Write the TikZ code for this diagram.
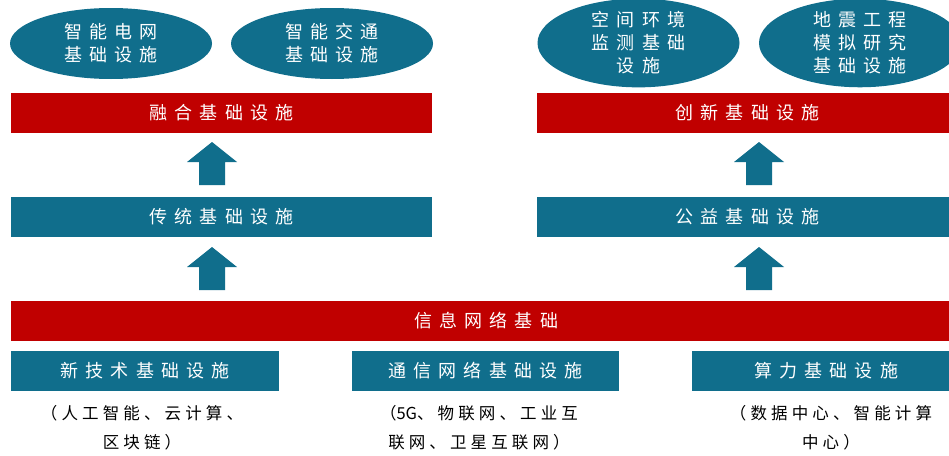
\documentclass[tikz,border=0pt]{standalone}
\usepackage{fontspec}
\usetikzlibrary{shapes.geometric}
\newfontfamily\cjk[LetterSpace=40]{Noto Sans CJK SC}
\newfontfamily\cjknote[LetterSpace=25]{Noto Sans CJK SC}
\newfontfamily\cjkplain{Noto Sans CJK SC}
\definecolor{tealc}{RGB}{16,110,140}
\definecolor{redc}{RGB}{192,0,0}
\tikzset{
  uparrow/.pic={\fill[tealc] (-13,21.5) -- (-13,-1.5) -- (-25,-1.5) -- (0,-21.5) -- (25,-1.5) -- (13,-1.5) -- (13,21.5) -- cycle;}
}
\begin{document}
\begin{tikzpicture}[x=1pt,y=-1pt,
  every node/.style={inner sep=0pt, outer sep=0pt},
  barfont/.style={font=\cjk\fontsize{18}{22}\selectfont},
  redbar/.style={barfont, fill=redc, text=white, minimum height=40pt},
  tealbar/.style={barfont, fill=tealc, text=white, minimum height=40pt},
  oval/.style={ellipse, fill=tealc, text=white, minimum width=202pt, minimum height=71pt, align=center, font=\cjk\fontsize{18}{23}\selectfont},
  note/.style={text=black, align=center, font=\cjknote\fontsize{16.5}{29}\selectfont}]
\useasboundingbox (0,0) rectangle (949,455);
\clip (0,0) rectangle (949,455);
\fill[white] (0,0) rectangle (949,455);
% ovals
\node[oval] (e1) at (111,43.5) {智能电网\\基础设施};
\node[oval] (e2) at (332,43.5) {智能交通\\基础设施};
\node[oval] (e3) at (638.5,43) {空间环境\\监测基础\\设施};
\node[oval] (e4) at (860,43) {地震工程\\模拟研究\\基础设施};
% top bars
\node[redbar, minimum width=421pt] (r1) at (221.5,113) {融合基础设施};
\node[redbar, minimum width=421pt] (r2) at (747.5,113) {创新基础设施};
\node[tealbar, minimum width=421pt] (t1) at (221.5,217) {传统基础设施};
\node[tealbar, minimum width=421pt] (t2) at (747.5,217) {公益基础设施};
\node[redbar, minimum width=950pt] (r3) at (486,320.5) {信息网络基础};
% bottom boxes
\node[tealbar, minimum width=268pt] (b1) at (145,371) {新技术基础设施};
\node[tealbar, minimum width=267pt] (b2) at (485.5,371) {通信网络基础设施};
\node[tealbar, minimum width=268pt] (b3) at (826,371) {算力基础设施};
% notes
\node[note] (n1) at (142,427.5) {（人工智能、云计算、\\区块链）};
\node[note] (n2) at (479,427.5) {（{\cjkplain 5G}、物联网、工业互\\联网、卫星互联网）};
\node[note] (n3) at (831,427.5) {（数据中心、智能计算\\中心）};
% block arrows
\pic at (212,163.5) {uparrow};
\pic at (212,268.5) {uparrow};
\pic at (759,163.5) {uparrow};
\pic at (759,268.5) {uparrow};
\end{tikzpicture}
\end{document}
